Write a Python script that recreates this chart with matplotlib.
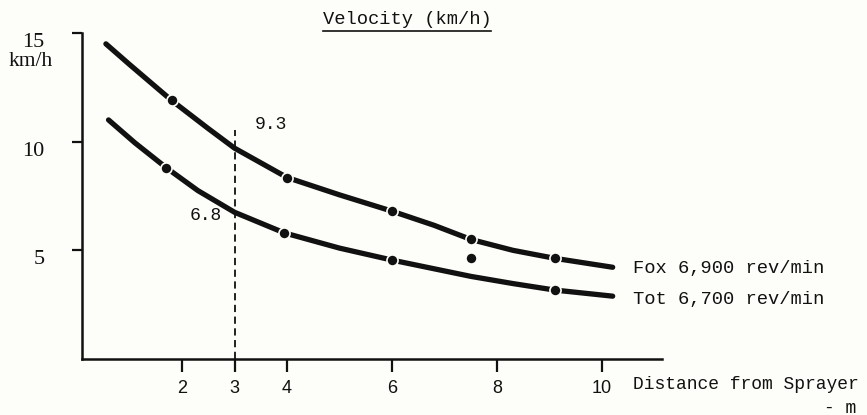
import matplotlib
matplotlib.use("Agg")
import matplotlib.pyplot as plt
from matplotlib.lines import Line2D

# curves (distance m, velocity km/h)
fox_curve_x = [0.55, 1.0, 1.8, 2.5, 3.0, 4.0, 5.0, 6.0, 6.8, 7.5, 8.3, 9.1, 10.2]
fox_curve_y = [14.5, 13.55, 11.9, 10.6, 9.7, 8.35, 7.55, 6.8, 6.15, 5.5, 5.0, 4.63, 4.22]
tot_curve_x = [0.6, 1.1, 1.7, 2.3, 3.0, 3.95, 5.0, 6.0, 7.5, 8.3, 9.1, 10.2]
tot_curve_y = [11.0, 9.95, 8.8, 7.75, 6.75, 5.8, 5.1, 4.55, 3.8, 3.47, 3.17, 2.89]

# measured points
fox_pts_x = [1.8, 4.0, 6.0, 7.5, 9.1]
fox_pts_y = [11.9, 8.35, 6.8, 5.5, 4.63]
tot_pts_x = [1.7, 3.95, 6.0, 7.5, 9.1]
tot_pts_y = [8.8, 5.8, 4.55, 4.63, 3.17]

x_ticks = [2, 3, 4, 6, 8, 10]
y_ticks = [5, 10, 15]
mark_x = 3
fox_at_mark = "9.3"
tot_at_mark = "6.8"
fox_label = "Fox 6,900 rev/min"
tot_label = "Tot 6,700 rev/min"

ink = "#111111"
paper = "#fdfdf9"
mono = "Liberation Mono"

fig = plt.figure(figsize=(8.67, 4.15), dpi=100, facecolor=paper)
ax = fig.add_axes([0.0946, 0.135, 0.669, 0.7855], facecolor=paper)

for cx, cy, px, py in [(fox_curve_x, fox_curve_y, fox_pts_x, fox_pts_y),
                       (tot_curve_x, tot_curve_y, tot_pts_x, tot_pts_y)]:
    ax.plot(cx, cy, color=ink, lw=3.8, solid_capstyle="round", solid_joinstyle="round")
    ax.plot(px, py, "o", color=ink, ms=8, mec=paper, mew=1.2, zorder=3)

# reading line at 3 m
ax.plot([mark_x, mark_x], [0, 10.55], color=ink, lw=1.3, ls=(0, (4, 2.5)))
ax.text(3.7, 10.8, fox_at_mark, family=mono, fontsize=13, ha="center", va="center", color=ink)
ax.text(2.45, 6.6, tot_at_mark, family=mono, fontsize=13, ha="center", va="center", color=ink)

ax.set_xlim(0.095, 11.14)
ax.set_ylim(0, 15)
ax.set_xticks(x_ticks)
ax.set_yticks(y_ticks)
ax.set_xticklabels([str(v) for v in x_ticks], family="Liberation Sans", fontsize=13, color=ink)
ax.set_yticklabels([str(v) for v in y_ticks], family="Liberation Serif", fontsize=16, color=ink)
ax.tick_params(axis="x", direction="out", length=9, width=1.6, pad=6, colors=ink)
ax.tick_params(axis="y", direction="out", length=7, width=1.6, pad=20, colors=ink)
for lbl in ax.get_yticklabels():
    lbl.set_va("top")
for side in ["top", "right"]:
    ax.spines[side].set_visible(False)
for side in ["left", "bottom"]:
    ax.spines[side].set_linewidth(1.8)
    ax.spines[side].set_color(ink)

# line labels and axis captions
fig.text(633 / 867, 1 - 268 / 415, fox_label, family=mono, fontsize=13.5, va="center", color=ink)
fig.text(633 / 867, 1 - 299 / 415, tot_label, family=mono, fontsize=13.5, va="center", color=ink)
fig.text(633 / 867, 1 - 384 / 415, "Distance from Sprayer", family=mono, fontsize=13, va="center", color=ink)
fig.text(856 / 867, 1 - 408 / 415, "- m", family=mono, fontsize=13, va="center", ha="right", color=ink)
fig.text(31 / 867, 1 - 62 / 415, "km/h", family="Liberation Serif", fontsize=15.5, va="center", ha="center", color=ink)

title = fig.text(407 / 867, 1 - 20 / 415, "Velocity (km/h)", family=mono, fontsize=13.5,
                 ha="center", va="center", color=ink)
fig.canvas.draw()
bb = title.get_window_extent().transformed(fig.transFigure.inverted())
fig.add_artist(Line2D([bb.x0, bb.x1], [1 - 31 / 415] * 2, color=ink, lw=1.2, transform=fig.transFigure))

fig.savefig("out.png", dpi=100, facecolor=paper)
